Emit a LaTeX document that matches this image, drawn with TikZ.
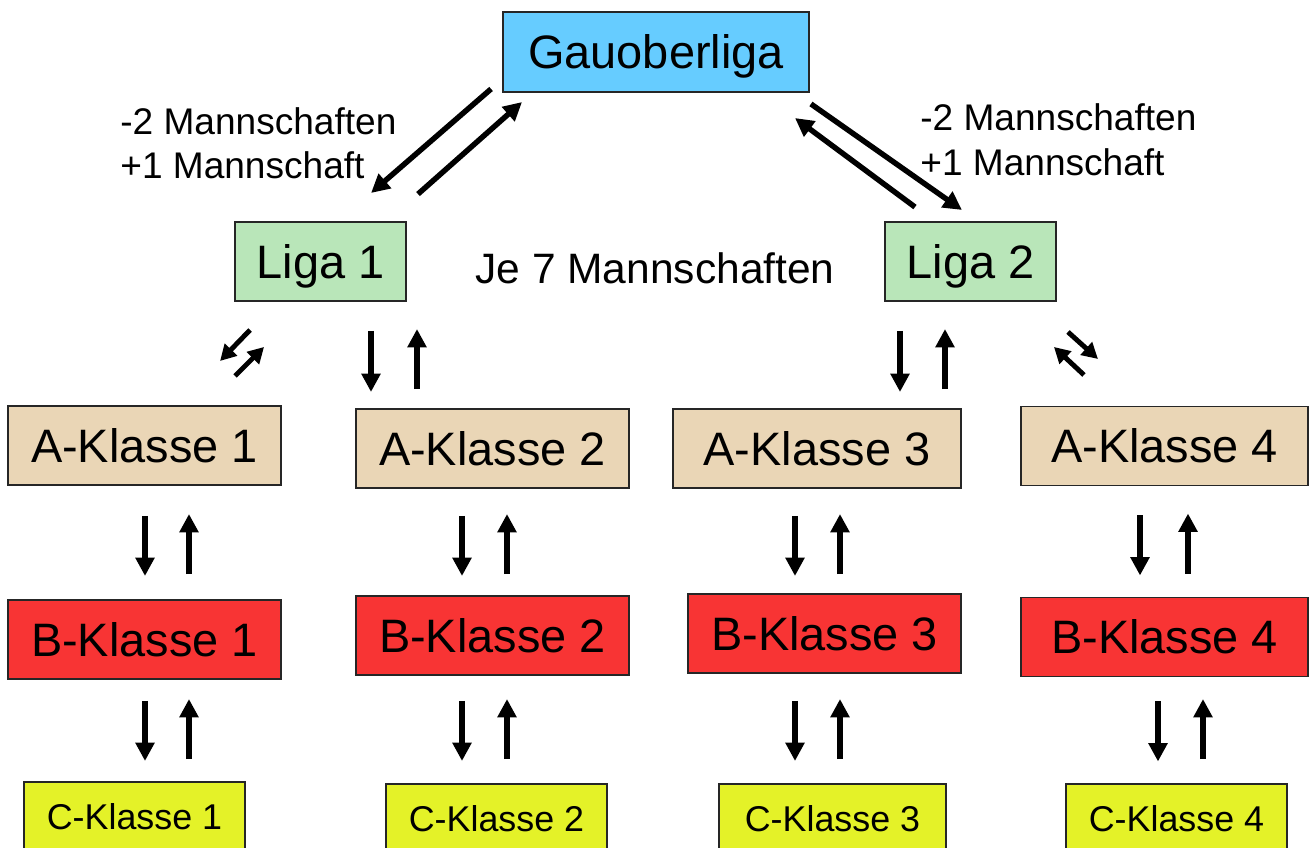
\documentclass[tikz,border=0pt]{standalone}
\usepackage{fontspec}
\setmainfont{Liberation Sans}
\usetikzlibrary{arrows.meta}
\definecolor{gauc}{RGB}{102,204,255}
\definecolor{ligac}{RGB}{185,230,185}
\definecolor{ac}{RGB}{234,214,182}
\definecolor{bc}{RGB}{248,52,52}
\definecolor{cc}{RGB}{228,242,40}
\begin{document}
\begin{tikzpicture}[x=0.02cm,y=-0.02cm,
  box/.style={draw=black!85, line width=1.1pt, inner sep=0pt, text height=19.1pt, text depth=0pt, font=\fontsize{26.7}{30}\selectfont},
  gbox/.style={box, fill=gauc, minimum width=6.12cm, minimum height=1.6cm},
  lbox/.style={box, fill=ligac, minimum width=3.42cm, minimum height=1.58cm},
  abox/.style={box, fill=ac, minimum width=5.46cm, minimum height=1.58cm},
  bbox/.style={box, fill=bc, minimum width=5.46cm, minimum height=1.58cm},
  cbox/.style={box, fill=cc, minimum width=4.42cm, minimum height=1.4cm, text height=14.6pt, font=\fontsize{20.4}{24}\selectfont},
  lbl/.style={inner sep=0pt, font=\fontsize{21.1}{25}\selectfont},
  arr/.style={line width=3.1pt, -{Triangle[length=10.5pt,width=10.5pt]}},
  sarr/.style={line width=2.8pt, -{Triangle[length=9pt,width=9.5pt]}}]
\useasboundingbox (0,0) rectangle (1311,848);
\clip (0,0) rectangle (1311,848);
% nodes
\node[gbox] (gau) at (656,52) {Gauoberliga};
\node[lbox] (l1) at (320.5,261.5) {Liga 1\hspace{0.12cm}};
\node[lbox] (l2) at (970.5,261.5) {Liga 2};
\node[inner sep=0pt, font=\fontsize{24.2}{28}\selectfont] (je) at (655,268) {Je 7 Mannschaften};
\node[lbl, anchor=base west] (tl1) at (120,134) {-2 Mannschaften};
\node[lbl, anchor=base west] (tl2) at (120,178) {+1 Mannschaft};
\node[lbl, anchor=base west] (tr1) at (920,131) {-2 Mannschaften};
\node[lbl, anchor=base west] (tr2) at (920,175) {+1 Mannschaft};
\node[abox] (a1) at (144.5,445.5) {A-Klasse 1\hspace{0.2cm}};
\node[abox] (a2) at (492.5,448.5) {A-Klasse 2};
\node[abox, minimum width=5.76cm] (a3) at (817,448.5) {A-Klasse 3\hspace{0.28cm}};
\node[abox, minimum width=5.74cm] (a4) at (1164.5,446) {A-Klasse 4\hspace{0.3cm}};
\node[bbox] (b1) at (144.5,639.5) {B-Klasse 1};
\node[bbox] (b2) at (492.5,635.5) {B-Klasse 2};
\node[bbox] (b3) at (824.5,633.5) {B-Klasse 3};
\node[bbox, minimum width=5.74cm] (b4) at (1164.5,637) {B-Klasse 4};
\node[cbox] (c1) at (134.5,817) {C-Klasse 1};
\node[cbox] (c2) at (496.5,819) {C-Klasse 2};
\node[cbox, minimum width=4.54cm] (c3) at (832.5,819) {C-Klasse 3};
\node[cbox] (c4) at (1176.5,819) {C-Klasse 4};
% Gauoberliga <-> Liga
\draw[arr] (gau.south west) ++(-11,-4) -- ++(-120,104);
\draw[arr] (l1.north) ++(97.5,-27) -- ++(104,-92);
\draw[arr] (gau.south east) ++(1,11) -- ++(151,106);
\draw[arr] (l2.north) ++(-55.5,-14) -- ++(-120,-89);
% Liga small diagonal arrows
\draw[sarr] (l1.south west) ++(16,28) -- ++(-30,31);
\draw[sarr] (l1.south west) ++(1,74) -- ++(29,-29);
\draw[sarr] (l2.south east) ++(11,30) -- ++(30,27);
\draw[sarr] (l2.south east) ++(27,73) -- ++(-30,-28);
% Liga -> A
\draw[arr] (l1.south) ++(50.5,29) -- ++(0,61);
\draw[arr] (a2.north) ++(-75.5,-19) -- ++(0,-60);
\draw[arr] (l2.south) ++(-70.5,29) -- ++(0,61);
\draw[arr] (a3.north) ++(128,-19) -- ++(0,-60);
% A <-> B
\draw[arr] (a1.south) ++(0.5,30) -- ++(0,60);
\draw[arr] (b1.north) ++(44.5,-25) -- ++(0,-60);
\draw[arr] (a2.south) ++(-30.5,27) -- ++(0,60);
\draw[arr] (b2.north) ++(14.5,-21) -- ++(0,-60);
\draw[arr] (a3.south) ++(-22,27) -- ++(0,60);
\draw[arr] (b3.north) ++(15.5,-19) -- ++(0,-60);
\draw[arr] (a4.south) ++(-24.5,29) -- ++(0,60);
\draw[arr] (b4.north) ++(23.5,-23) -- ++(0,-60);
% B <-> C
\draw[arr] (b1.south) ++(0.5,21) -- ++(0,60);
\draw[arr] (c1.north) ++(54.5,-22) -- ++(0,-60);
\draw[arr] (b2.south) ++(-30.5,25) -- ++(0,60);
\draw[arr] (c2.north) ++(10.5,-24) -- ++(0,-60);
\draw[arr] (b3.south) ++(-29.5,27) -- ++(0,60);
\draw[arr] (c3.north) ++(7.5,-24) -- ++(0,-60);
\draw[arr] (b4.south) ++(-6.5,24) -- ++(0,60);
\draw[arr] (c4.north) ++(26.5,-24) -- ++(0,-60);
\end{tikzpicture}
\end{document}
